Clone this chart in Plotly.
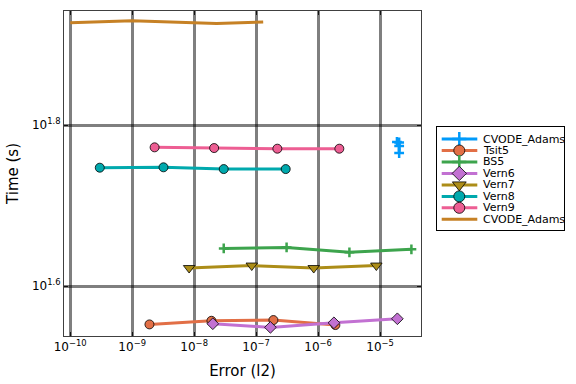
import plotly.graph_objects as go

# ---- data (error l2, time s) ----
cvode1_err = [1.87e-5, 2.03e-5, 2.03e-5, 2.03e-5]
cvode1_time = [10**1.779, 10**1.7783, 10**1.774, 10**1.7652]

tsit5_err = [1.9e-9, 1.9e-8, 1.9e-7, 1.9e-6]
tsit5_time = [10**1.5524, 10**1.5569, 10**1.5578, 10**1.5516]

bs5_err = [3.0e-8, 3.1e-7, 3.2e-6, 3.2e-5]
bs5_time = [10**1.6468, 10**1.648, 10**1.6419, 10**1.6456]

vern6_err = [2.0e-8, 1.7e-7, 1.8e-6, 1.9e-5]
vern6_time = [10**1.5532, 10**1.5487, 10**1.5544, 10**1.5594]

vern7_err = [8.3e-9, 8.5e-8, 8.5e-7, 8.7e-6]
vern7_time = [10**1.6224, 10**1.6255, 10**1.6224, 10**1.6255]

vern8_err = [3.0e-10, 3.2e-9, 3.0e-8, 3.0e-7]
vern8_time = [10**1.747, 10**1.7475, 10**1.7453, 10**1.7453]

vern9_err = [2.3e-9, 2.1e-8, 2.2e-7, 2.2e-6]
vern9_time = [10**1.7723, 10**1.7714, 10**1.7706, 10**1.7706]

cvode2_err = [1.0e-10, 1.0e-9, 2.3e-8, 1.3e-7]
cvode2_time = [10**1.927, 10**1.9296, 10**1.926, 10**1.928]

x_tickvals = [1e-10, 1e-9, 1e-8, 1e-7, 1e-6, 1e-5]
x_ticktext = ["10<sup>−10</sup>", "10<sup>−9</sup>", "10<sup>−8</sup>", "10<sup>−7</sup>",
              "10<sup>−6</sup>", "10<sup>−5</sup>"]
y_tickvals = [10**1.6, 10**1.8]
y_ticktext = ["10<sup>1.6</sup>", "10<sup>1.8</sup>"]

series = [
    ("CVODE_Adams", cvode1_err, cvode1_time, "#009AFA", "cross-thin", 7),
    ("Tsit5", tsit5_err, tsit5_time, "#E26F46", "circle", 9),
    ("BS5", bs5_err, bs5_time, "#3DA44D", "cross-thin", 7),
    ("Vern6", vern6_err, vern6_time, "#C271D2", "diamond", 9),
    ("Vern7", vern7_err, vern7_time, "#AC8D18", "triangle-down", 10),
    ("Vern8", vern8_err, vern8_time, "#00A9AD", "circle", 9),
    ("Vern9", vern9_err, vern9_time, "#ED5E93", "circle", 9),
    ("CVODE_Adams", cvode2_err, cvode2_time, "#C68125", None, 0),
]

W, H = 576, 384
fig = go.Figure()


def marker_style(col, sym, sz):
    if sym == "cross-thin":
        return dict(symbol=sym, size=sz, color=col, line=dict(color=col, width=2.5))
    return dict(symbol=sym, size=sz, color=col, line=dict(color="black", width=0.8))


for name, xe, yt, col, sym, sz in series:
    if sym is None:
        fig.add_trace(go.Scatter(x=xe, y=yt, name=name, mode="lines",
                                 line=dict(color=col, width=3), showlegend=False))
    else:
        fig.add_trace(go.Scatter(x=xe, y=yt, name=name, mode="lines+markers",
                                 line=dict(color=col, width=3),
                                 marker=marker_style(col, sym, sz), showlegend=False))

# ---- custom compact legend drawn on an auxiliary axis pair ----
LEG_W = 127.6
for i, (name, xe, yt, col, sym, sz) in enumerate(series):
    fig.add_trace(go.Scatter(x=[5, 40.6], y=[i, i], mode="lines", xaxis="x2", yaxis="y2",
                             line=dict(color=col, width=3), showlegend=False,
                             hoverinfo="skip"))
    if sym is not None:
        fig.add_trace(go.Scatter(x=[22.6], y=[i], mode="markers", xaxis="x2", yaxis="y2",
                                 marker=marker_style(col, sym, sz + 2 if sym != "cross-thin" else sz + 3),
                                 showlegend=False, hoverinfo="skip"))
    fig.add_annotation(x=45, y=i, xref="x2", yref="y2", text=name, showarrow=False,
                       xanchor="left", yanchor="middle", borderpad=0,
                       font=dict(family="DejaVu Sans", size=11, color="black"))

axis_common = dict(
    type="log", showgrid=True, gridcolor="rgba(0,0,0,0.5)", gridwidth=2.5,
    showline=True, linecolor="rgba(0,0,0,0.75)", linewidth=1, mirror="allticks",
    ticks="inside", ticklen=4, tickwidth=1, tickcolor="rgba(0,0,0,0.85)",
    zeroline=False, tickfont=dict(family="DejaVu Sans", size=12, color="black"),
    automargin=False,
)

fig.update_layout(
    width=W, height=H,
    margin=dict(l=0, r=0, t=0, b=0),
    plot_bgcolor="white", paper_bgcolor="white",
    showlegend=False,
    xaxis=dict(**axis_common, domain=[64 / W, 421 / W], range=[-10.1, -4.34],
               tickvals=x_tickvals, ticktext=x_ticktext,
               title=dict(text="Error (l2)", font=dict(family="DejaVu Sans", size=15, color="black"),
                          standoff=12)),
    yaxis=dict(**axis_common, domain=[(H - 336) / H, (H - 11) / H], range=[1.538, 1.9416],
               tickvals=y_tickvals, ticktext=y_ticktext,
               title=dict(text="Time (s)", font=dict(family="DejaVu Sans", size=15, color="black"),
                          standoff=9)),
    xaxis2=dict(domain=[436.7 / W, 564.3 / W], range=[0, LEG_W], anchor="y2",
                showgrid=False, zeroline=False, showticklabels=False, ticks="",
                showline=True, mirror=True, linecolor="black", linewidth=1, fixedrange=True),
    yaxis2=dict(domain=[(H - 230) / H, (H - 127.3) / H], range=[7.93, -1.02], anchor="x2",
                showgrid=False, zeroline=False, showticklabels=False, ticks="",
                showline=True, mirror=True, linecolor="black", linewidth=1, fixedrange=True),
)

fig.write_html("out.html", config={"displayModeBar": False},
               post_script="document.body.style.margin='0';")
